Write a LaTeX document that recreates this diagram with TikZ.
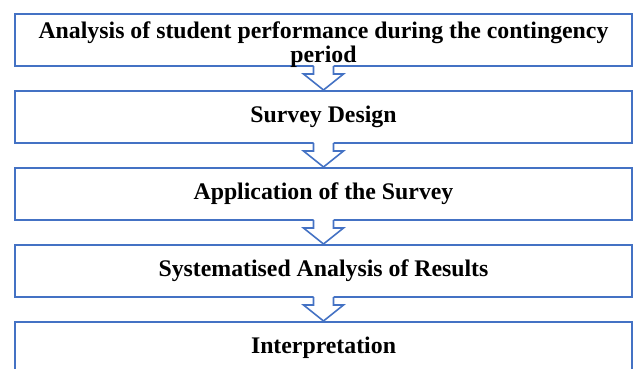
\documentclass[tikz,border=0pt]{standalone}
\usepackage{fontspec}
\setmainfont{Liberation Serif}
\usetikzlibrary{positioning,calc}

\definecolor{stageblue}{HTML}{4472C4}

\tikzset{
  stage/.style={draw=stageblue, line width=2pt, minimum width=617pt,
    minimum height=52pt, text width=595pt, align=flush center, inner sep=0pt,
    font=\bfseries\fontsize{23.8}{24}\selectfont},
  flow/.style={draw=stageblue, line width=1.6pt, line join=miter},
}

% hollow block arrow from the bottom of #1 to the top of #2
\newcommand{\flowarrow}[2]{%
  \fill[white] ($(#1.south)+(-10,-3)$) -- ($(#1.south)+(10,-3)$)
    -- ($(#1.south)+(10,7)$) -- ($(#1.south)+(20,7)$) -- (#2.north)
    -- ($(#1.south)+(-20,7)$) -- ($(#1.south)+(-10,7)$) -- cycle;
  \draw[flow] ($(#1.south)+(-10,-1)$) -- ($(#1.south)+(-10,7)$)
    -- ($(#1.south)+(-20,7)$) -- (#2.north) -- ($(#1.south)+(20,7)$)
    -- ($(#1.south)+(10,7)$) -- ($(#1.south)+(10,-1)$);
}

\begin{document}
\begin{tikzpicture}[x=1pt,y=-1pt]
\useasboundingbox (0,0) rectangle (633,368);

\node[stage, text depth=20pt] (analysis) at (323.5,40)
  {Analysis of student performance during the contingency period};
\node[stage, below=23pt of analysis] (design) {Survey Design};
\node[stage, below=23pt of design] (application) {Application of the Survey};
\node[stage, below=23pt of application] (results) {Systematised Analysis of Results};
\node[stage, below=23pt of results] (interp) {Interpretation};

\flowarrow{analysis}{design}
\flowarrow{design}{application}
\flowarrow{application}{results}
\flowarrow{results}{interp}
\end{tikzpicture}
\end{document}
